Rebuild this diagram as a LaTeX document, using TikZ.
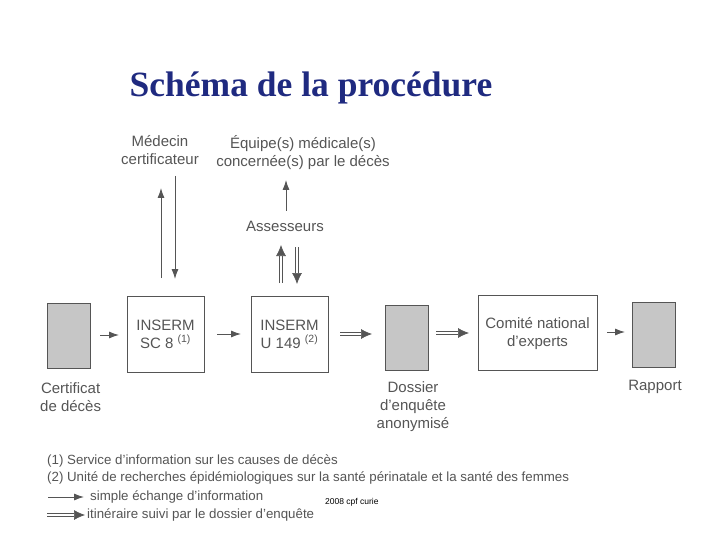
\documentclass[tikz,border=0pt]{standalone}
\usepackage{fontspec}
\setmainfont{Liberation Sans}
\newfontfamily\titlefont{Liberation Serif}
\usetikzlibrary{arrows.meta}
\definecolor{ink}{HTML}{555555}
\definecolor{titleblue}{HTML}{1F2A80}
\begin{document}
\begin{tikzpicture}[x=1pt,y=-1pt,
  box/.style={draw=ink,line width=0.7pt,fill=white},
  doc/.style={draw=ink,fill=gray!45,line width=0.6pt,minimum width=43pt,minimum height=65pt},
  lbl/.style={text=ink,font=\fontsize{15}{18}\selectfont,align=center,inner sep=0pt},
  leg/.style={text=ink,font=\fontsize{13.3}{16}\selectfont,inner sep=0pt},
  sarr/.style={draw=ink,line width=0.9pt,-{Latex[length=10pt,width=7pt]}},
  darr/.style={draw=ink,double=white,double distance=2.2pt,line width=0.7pt,-{Latex[length=11pt,width=10pt]}}]
\useasboundingbox (0,0) rectangle (720,540);
\fill[white] (0,0) rectangle (720,540);
\node[text=titleblue,font=\titlefont\bfseries\fontsize{35.5}{42}\selectfont,anchor=base] (title) at (311,97) {Schéma de la procédure};
% documents
\node[doc] (cert) at (68.5,336) {};
\node[doc] (dos) at (406.5,338) {};
\node[doc] (rap) at (654,335) {};
% boxes
\node[box,minimum width=77pt,minimum height=76pt] (sc8) at (165.5,334) {};
\node[lbl] (sc8t) at (165.5,334) {INSERM\\SC 8 \textsuperscript{(1)}};
\node[box,minimum width=77pt,minimum height=76pt] (u149) at (289.5,334) {};
\node[lbl] (u149t) at (289.5,334) {INSERM\\U 149 \textsuperscript{(2)}};
\node[box,minimum width=119pt,minimum height=75pt] (com) at (537.5,332.5) {};
\node[lbl] (comt) at (537.5,334) {Comité national\\d'experts};
% labels
\node[lbl,anchor=north] (med) at (160,135) {Médecin\\certificateur};
\node[lbl,anchor=north] (eq) at (303,135) {Équipe(s) médicale(s)\\concernée(s) par le décès};
\node[lbl] (ass) at (285,226) {Assesseurs};
\node[lbl,anchor=north west] (certl) at (40,382) {Certificat\\de décès};
\node[lbl,anchor=north] (dosl) at (413,381) {Dossier\\d'enquête\\anonymisé};
\node[lbl] (rapl) at (655,387) {Rapport};
% coordinates for arrows
\coordinate (a1) at (161,278); \coordinate (a2) at (161,188);
\coordinate (b1) at (175,176); \coordinate (b2) at (175,279);
\coordinate (c1) at (286,211); \coordinate (c2) at (286,180);
\coordinate (d1) at (281,283); \coordinate (d2) at (281,245);
\coordinate (e1) at (297,247); \coordinate (e2) at (297,284);
\coordinate (f1) at (100,335); \coordinate (f2) at (119,335);
\coordinate (f3) at (217,334); \coordinate (f4) at (241,334);
\coordinate (f5) at (340,334); \coordinate (f6) at (372,334);
\coordinate (f7) at (436,333); \coordinate (f8) at (469,333);
\coordinate (f9) at (607,332); \coordinate (f10) at (625,332);
\draw[sarr] (a1) -- (a2);
\draw[sarr] (b1) -- (b2);
\draw[sarr] (c1) -- (c2);
\draw[darr] (d1) -- (d2);
\draw[darr] (e1) -- (e2);
\draw[sarr] (f1) -- (f2);
\draw[sarr] (f3) -- (f4);
\draw[darr] (f5) -- (f6);
\draw[darr] (f7) -- (f8);
\draw[sarr] (f9) -- (f10);
% legend
\node[leg,anchor=west] (l1) at (47,461) {(1) Service d'information sur les causes de décès};
\node[leg,anchor=west] (l2) at (47,478) {(2) Unité de recherches épidémiologiques sur la santé périnatale et la santé des femmes};
\coordinate (g1) at (48,497); \coordinate (g2) at (84,497);
\coordinate (h1) at (47,515); \coordinate (h2) at (85,515);
\draw[sarr] (g1) -- (g2);
\draw[darr] (h1) -- (h2);
\node[leg,anchor=west] (l3) at (90,497) {simple échange d'information};
\node[leg,anchor=west] (l4) at (87,515) {itinéraire suivi par le dossier d'enquête};
\node[anchor=west,font=\fontsize{8.5}{10}\selectfont,inner sep=0pt] (cpf) at (325,502) {2008 cpf curie};
\end{tikzpicture}
\end{document}
